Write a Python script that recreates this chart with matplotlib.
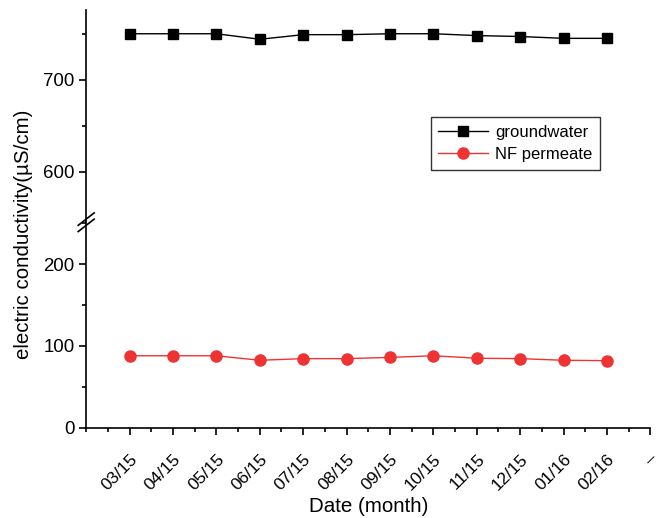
import matplotlib
matplotlib.use('Agg')
import matplotlib.pyplot as plt
from matplotlib.lines import Line2D
import numpy as np

plt.rcParams['font.family'] = ['Liberation Sans', 'DejaVu Sans']

# data
months = ['03/15', '04/15', '05/15', '06/15', '07/15', '08/15', '09/15',
          '10/15', '11/15', '12/15', '01/16', '02/16']
tick_labels = months + ['–']
groundwater = [750, 750, 750, 744, 749, 749, 750, 750, 748, 747, 745, 745]
nf_permeate = [88, 88, 88, 82.5, 84.5, 84.5, 86, 88, 85, 84.5, 82.5, 82]

x = np.arange(1, len(months) + 1)
red = '#ee3333'

fig = plt.figure(figsize=(6.63, 5.18), dpi=100)
left, right = 0.13, 0.981
brk = 0.571
ax_top = fig.add_axes([left, brk, right - left, 0.981 - brk])
ax_bot = fig.add_axes([left, 0.174, right - left, brk - 0.174])

for ax in (ax_top, ax_bot):
    ax.plot(x, groundwater, 'k-', marker='s', ms=7, lw=1, label='groundwater')
    ax.plot(x, nf_permeate, '-', color=red, marker='o', ms=8, lw=1, label='NF permeate')
    ax.spines['top'].set_visible(False)
    ax.spines['right'].set_visible(False)
    ax.spines['left'].set_linewidth(1.2)
    ax.set_xlim(0, 13)
    ax.tick_params(axis='y', direction='out', length=5, width=1.2, labelsize=13.4)
    ax.tick_params(axis='y', which='minor', length=3, width=1.2)

ax_top.set_ylim(545, 776)
ax_top.set_yticks([600, 700])
ax_top.set_yticks([650, 750], minor=True)
ax_top.spines['bottom'].set_visible(False)
ax_top.tick_params(axis='x', which='both', bottom=False, labelbottom=False)

ax_bot.set_ylim(0, 251)
ax_bot.set_yticks([0, 100, 200])
ax_bot.set_yticks([50, 150, 250], minor=True)
ax_bot.spines['bottom'].set_linewidth(1.2)
ax_bot.set_xticks(np.arange(1, 14))
ax_bot.set_xticks(np.arange(0, 13.5, 0.5), minor=True)
ax_bot.set_xticklabels(tick_labels, rotation=45, ha='right', rotation_mode='anchor')
ax_bot.tick_params(axis='x', direction='out', length=5, width=1.2, labelsize=12.5, pad=12)
ax_bot.tick_params(axis='x', which='minor', length=3, width=1.2)
ax_bot.set_xlabel('Date (month)', fontsize=14.8, labelpad=3)

fig.text(0.036, 0.547, 'electric conductivity(µS/cm)', rotation=90, fontsize=14.8,
         ha='center', va='center')

# break marks on the y axis
for dy in (-0.006, 0.006):
    fig.add_artist(Line2D([left - 0.012, left + 0.012], [brk - 0.012 + dy, brk + 0.012 + dy],
                          color='k', lw=1.2, transform=fig.transFigure))

leg = fig.legend(*ax_top.get_legend_handles_labels(), loc='upper left',
                 bbox_to_anchor=(0.650, 0.774), bbox_transform=fig.transFigure,
                 fontsize=12, frameon=True, fancybox=False, edgecolor='k',
                 borderpad=0.45, handlelength=3.0, handletextpad=0.4, labelspacing=0.45,
                 borderaxespad=0)
leg.get_frame().set_linewidth(1)

fig.savefig('out.png', dpi=100)
